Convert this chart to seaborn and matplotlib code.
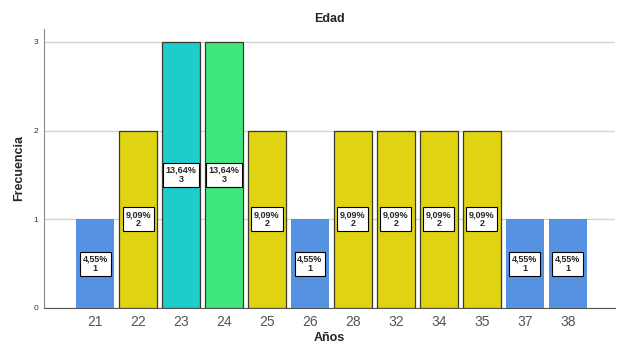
import matplotlib
matplotlib.use("Agg")
import matplotlib.pyplot as plt
import seaborn as sns
import pandas as pd

# Frequency table of ages
edades = ["21", "22", "23", "24", "25", "26", "28", "32", "34", "35", "37", "38"]
frecuencias = [1, 2, 3, 3, 2, 1, 2, 2, 2, 2, 1, 1]
porcentajes = ["4,55%", "9,09%", "13,64%", "13,64%", "9,09%", "4,55%",
               "9,09%", "9,09%", "9,09%", "9,09%", "4,55%", "4,55%"]

# Fill colour depends on the frequency
colores_frecuencia = {1: "#5592E2", 2: "#E0D412", 3: None}
colores_especiales = {"23": "#1ECCCB", "24": "#3FE87C"}

colores = []
for edad, f in zip(edades, frecuencias):
    colores.append(colores_especiales.get(edad, colores_frecuencia[f]))

df = pd.DataFrame({"Edad": edades, "Frecuencia": frecuencias})

sns.set_style("white")
plt.rcParams["font.family"] = ["Liberation Sans", "DejaVu Sans"]

fig = plt.figure(figsize=(6.17, 3.44), dpi=100)
ax = fig.add_axes([0.0713, 0.1047, 0.9255, 0.811])

sns.barplot(data=df, x="Edad", y="Frecuencia", hue="Edad",
            palette=dict(zip(edades, colores)), order=edades,
            width=0.88, legend=False, ax=ax, saturation=1)

for patch, f in zip(ax.patches, frecuencias):
    if f == 1:
        patch.set_edgecolor("none")
    else:
        patch.set_edgecolor("#3a3a2a")
        patch.set_linewidth(0.9)

for i, (f, p) in enumerate(zip(frecuencias, porcentajes)):
    ax.text(i, f / 2, f"{p}\n{f}", ha="center", va="center",
            fontsize=6.5, fontweight="bold", linespacing=1.05,
            family=["Liberation Sans Narrow", "Liberation Sans"],
            bbox=dict(boxstyle="square,pad=0.3", fc="white", ec="black", lw=0.8))

ax.set_xlim(-1.19, 12.1)
ax.set_ylim(0, 3.146)
ax.set_yticks([0, 1, 2, 3])
ax.yaxis.grid(True, color="#d4d4d4", lw=1)
ax.set_axisbelow(True)

for s in ["top", "right"]:
    ax.spines[s].set_visible(False)
ax.spines["left"].set_color("#888888")
ax.spines["bottom"].set_color("#555555")
ax.spines["left"].set_linewidth(0.8)
ax.spines["bottom"].set_linewidth(0.8)

ax.tick_params(axis="y", labelsize=6, length=0, pad=4, labelcolor="#333333")
ax.tick_params(axis="x", labelsize=10, length=0, pad=5, labelcolor="#555555")

ax.set_title("Edad", fontsize=9, fontweight="bold", pad=5)
ax.set_xlabel("Años", fontsize=9, fontweight="bold", labelpad=2)
ax.set_ylabel("Frecuencia", fontsize=9, fontweight="bold", labelpad=6)

fig.savefig("out.png", dpi=100)
